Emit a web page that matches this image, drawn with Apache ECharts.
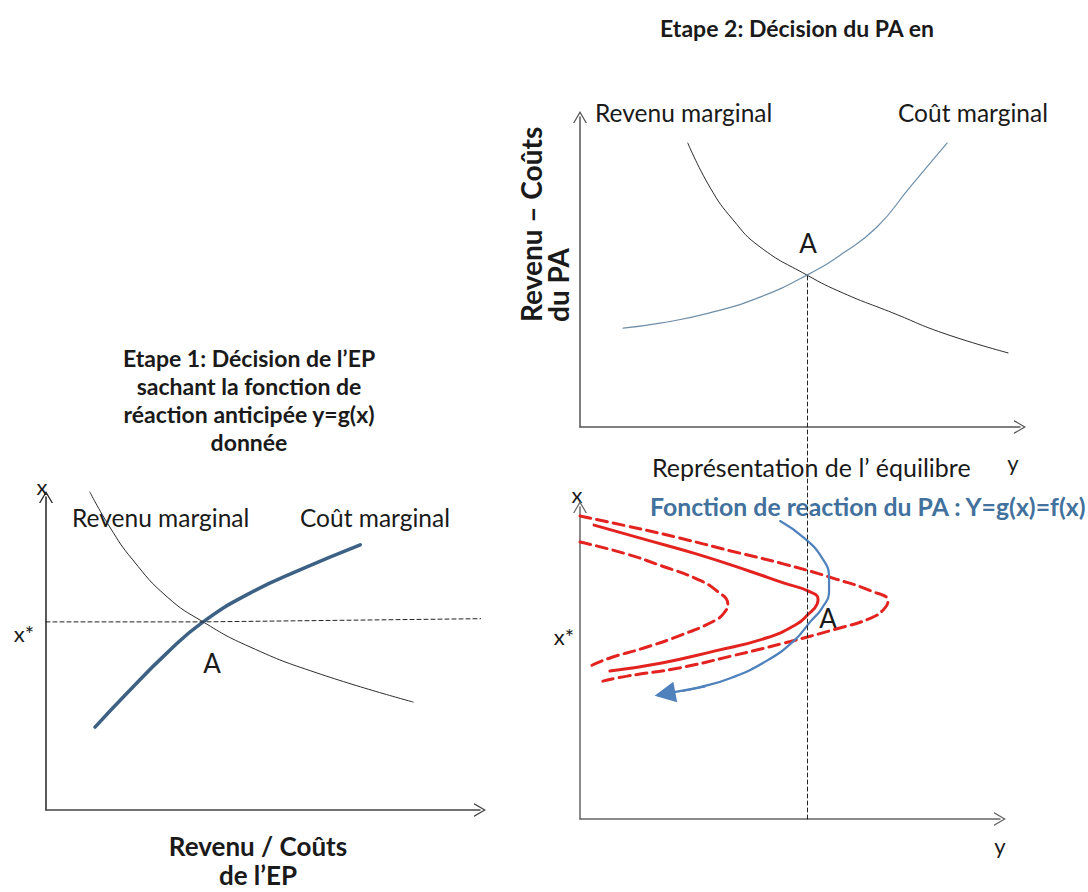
<!DOCTYPE html>
<html><head><meta charset="utf-8">
<script src="https://cdn.jsdelivr.net/npm/echarts@6.0.0/dist/echarts.min.js"></script>
<style>html,body{margin:0;padding:0;background:#fff}#c{width:1088px;height:892px}</style>
</head><body><div id="c"></div>
<script>
// ---------- DATA ----------
// Panel "Etape 2" (PA): horizontal = y, vertical = revenue / cost
const paRevenuMarginal = [[24.5,91.6],[29.5,77.4],[34.8,66.8],[40.9,58.1],[51.6,49.0],[59.8,43.2],[71.1,36.8],[82.5,30.3],[97.3,23.9]];
const paCoutMarginal   = [[9.8,31.9],[18.2,33.5],[29.5,36.8],[40.9,41.9],[51.6,49.0],[59.8,56.1],[67.5,64.5],[75.0,77.4],[83.4,91.6]];
const paEquilibre = [51.6, 49.0];

// Panel "Etape 1" (EP): horizontal = revenue / cost, vertical = x
const epRevenuMarginal = [[10.1,101.6],[14.7,90.4],[20.0,79.9],[27.9,68.1],[36.2,60.1],[47.0,52.1],[62.4,43.8],[84.6,34.5]];
const epCoutMarginal   = [[11.3,26.5],[18.7,37.4],[27.9,50.2],[36.2,60.1],[47.0,69.3],[58.5,76.7],[72.4,84.7]];
const epEquilibre = [36.2, 60.1];

// Panel "Représentation de l'équilibre": horizontal = y, vertical = x
const eqCourbe = [[3.2,94.2],[14.5,89.7],[26.6,84.9],[38.4,79.5],[46.4,75.6],[51.8,73.1],[54.1,70.5],[53.9,68.9],[51.7,65.4],[49.3,62.5],[42.3,58.0],[30.5,53.8],[18.6,50.0],[6.8,47.4]];
const eqCourbeHaute = [[0,97.1],[10.7,93.9],[22.5,90.1],[34.3,85.9],[46.4,81.7],[58.2,76.9],[66.1,73.1],[70.0,69.9],[69.1,67.3],[66.1,64.4],[58.2,60.9],[46.4,56.4],[34.3,52.2],[22.5,48.4],[10.7,45.8],[5.2,44.2]];
const eqCourbeBasse = [[0,88.8],[10.7,84.9],[18.6,81.1],[26.6,76.9],[31.1,73.1],[33.6,68.9],[32.7,66.0],[30.5,63.5],[22.5,58.7],[14.5,54.8],[6.8,51.6],[2.3,49.0]];
const eqReaction = [[45.5,95.5],[50.9,90.1],[55.0,83.7],[56.6,77.2],[56.6,73.1],[55.0,67.6],[52.5,63.5],[48.6,57.1],[42.3,50.6],[34.3,45.2],[26.6,42.0],[23.5,41.1]];
const eqReactionPointe = [[28.5,42.5],[19.3,40.1]];
const eqEquilibre = [51.7, 65.4];

// Texts
const titreEtape2 = 'Etape 2: Décision du PA en';
const titreEtape1 = ['Etape 1: Décision de l’EP','sachant la fonction de','réaction anticipée y=g(x)','donnée'];
const axePA = ['Revenu – Coûts','du PA'];
const axeEP = ['Revenu / Coûts','de l’EP'];
const lblRevenu = 'Revenu marginal';
const lblCout = 'Coût marginal';
const lblEquilibre = 'Représentation de l’ équilibre';
const lblReaction = 'Fonction de reaction du PA : Y=g(x)=f(x)';

// ---------- CHART ----------
const FONT = 'Lato, "Open Sans", sans-serif';
const chart = echarts.init(document.getElementById('c'), null, {renderer:'svg'});
const chevron = 'path://M0,12 L7,0 L14,12 L12.6,12 L7,2.4 L1.4,12 Z';
function axis(gridIndex, max, color){
  return {type:'value', gridIndex, min:0, max,
    axisLine:{show:true, onZero:false, symbol:['none', chevron], symbolSize:[14,12], lineStyle:{color, width:1.5}},
    axisTick:{show:false}, axisLabel:{show:false}, splitLine:{show:false}};
}
function line(xi, data, color, width, type, extra){
  return Object.assign({type:'line', xAxisIndex:xi, yAxisIndex:xi, data, smooth:true, showSymbol:false, symbol:'none',
    clip:false, silent:true, lineStyle:{color, width, type: type||'solid', cap:'round'}}, extra||{});
}
function T(x,y,text,size,opt){
  opt = opt||{};
  return {type:'text', x, y, rotation:opt.rot||0, silent:true,
    style:{text, font:(opt.bold?'bold ':'')+size+'px '+FONT, fill:opt.color||'#1a1a1a',
      align:opt.align||'left', verticalAlign:'middle'}};
}
const RED='#e3231f', BLUE='#4f81bd';
const graphic = [
  T(797,28,titreEtape2,23,{bold:true,align:'center'}),
  T(595,112,lblRevenu,24.5), T(898,112,lblCout,24.5),
  T(808,243,'A',26,{align:'center'}),
  T(531,322,axePA[0],28,{bold:true,rot:Math.PI/2}),
  T(558,322,axePA[1],28,{bold:true,rot:Math.PI/2}),
  T(249,358,titreEtape1[0],23,{bold:true,align:'center'}),
  T(249,386,titreEtape1[1],23,{bold:true,align:'center'}),
  T(249,414,titreEtape1[2],23,{bold:true,align:'center'}),
  T(249,442,titreEtape1[3],23,{bold:true,align:'center'}),
  T(42,486,'x',22,{align:'center'}),
  T(72,517,lblRevenu,24.5), T(300,517,lblCout,24.5),
  T(24,633,'x*',22,{align:'center'}),
  T(212,663,'A',26,{align:'center'}),
  T(258,846,axeEP[0],26,{bold:true,align:'center'}),
  T(258,875,axeEP[1],26,{bold:true,align:'center'}),
  T(652,467,lblEquilibre,25),
  T(1013,462,'y',22,{align:'center'}),
  T(577,494,'x',22,{align:'center'}),
  T(650,506,lblReaction,24.8,{bold:true,color:'#41719c'}),
  T(564,636,'x*',22,{align:'center'}),
  T(828,618,'A',26,{align:'center'}),
  T(1000,845,'y',22,{align:'center'})
];
const option = {
  animation:false, backgroundColor:'#fff',
  grid:[
    {left:580, top:117, width:440, height:310},
    {left:46, top:497, width:434, height:313},
    {left:580, top:507, width:420, height:312}
  ],
  xAxis:[axis(0,100,'#555'), axis(1,100,'#444'), axis(2,95.45,'#666')],
  yAxis:[axis(0,100,'#555'), axis(1,100,'#222'), axis(2,100,'#666')],
  graphic,
  series:[
    line(0, paRevenuMarginal, '#2b2b2b', 1),
    line(0, paCoutMarginal, '#6f8ea8', 1.2),
    line(1, epRevenuMarginal, '#2b2b2b', 1),
    line(1, epCoutMarginal, '#3d6185', 3.5),
    line(2, eqCourbeHaute, RED, 3, [11,6]),
    line(2, eqCourbeBasse, RED, 3, [11,6]),
    line(2, eqCourbe, RED, 3),
    line(2, eqReaction, BLUE, 2.2),
    {type:'lines', coordinateSystem:'cartesian2d', xAxisIndex:2, yAxisIndex:2, silent:true,
      symbol:['none','triangle'], symbolSize:21,
      lineStyle:{color:BLUE, width:2.2, opacity:1},
      data:[{coords:eqReactionPointe}]},
    line(1, [], '#222', 1, [4,3], {smooth:false, id:'xstar'}),
    line(2, [], '#222', 1, [4,3], {smooth:false, id:'ystar'})
  ]
};
chart.setOption(option);
// dashed guide lines through the equilibria, positioned through the axes' own scales
const pA2 = chart.convertToPixel({gridIndex:0}, paEquilibre);
const pA3 = chart.convertToPixel({gridIndex:2}, eqEquilibre);
const vTop = chart.convertFromPixel({gridIndex:2}, pA2);
const hEnd = chart.convertFromPixel({gridIndex:1}, pA3);
chart.setOption({series:[
  {id:'xstar', data:[[0, epEquilibre[1]], epEquilibre, hEnd]},
  {id:'ystar', data:[[eqEquilibre[0], 0], [eqEquilibre[0], vTop[1]]]}
]});
</script>
</body></html>
